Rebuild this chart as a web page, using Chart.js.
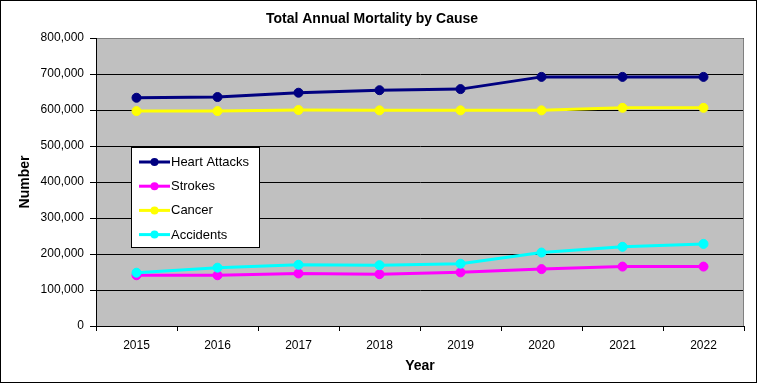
<!DOCTYPE html>
<html>
<head>
<meta charset="utf-8">
<script src="https://cdn.jsdelivr.net/npm/chart.js@4/dist/chart.umd.min.js"></script>
<style>
html,body{margin:0;padding:0;background:#fff;}
canvas{display:block;}
</style>
</head>
<body>
<canvas id="c" width="757" height="383"></canvas>
<script>
const years = ['2015','2016','2017','2018','2019','2020','2021','2022'];
const heartAttacks = [634000, 636000, 648000, 655000, 658000, 692000, 692000, 692000];
const strokes      = [141000, 141000, 146000, 144000, 149000, 158000, 165000, 165000];
const cancer       = [597000, 597000, 600000, 599000, 599000, 599000, 606000, 606000];
const accidents    = [148000, 162000, 170000, 169000, 173000, 204000, 220000, 228000];
const seriesNames  = ['Heart Attacks','Strokes','Cancer','Accidents'];
const seriesColors = ['#000080','#FF00FF','#FFFF00','#00FFFF'];
const yTicks = [0,100000,200000,300000,400000,500000,600000,700000,800000];

const FONT = 'Arial, "Liberation Sans", sans-serif';

function mk(i, data, order){
  return {
    label: seriesNames[i], data: data,
    borderColor: seriesColors[i], backgroundColor: seriesColors[i],
    pointBackgroundColor: seriesColors[i], pointBorderColor: seriesColors[i],
    borderWidth: 3, pointRadius: 4.5, pointBorderWidth: 1, tension: 0, order: order
  };
}

const plotBg = {
  id: 'plotBg',
  beforeDraw(chart){
    const {ctx, chartArea: a} = chart;
    ctx.save();
    ctx.fillStyle = '#fff';
    ctx.fillRect(0,0,chart.width,chart.height);
    ctx.fillStyle = '#C0C0C0';
    ctx.fillRect(a.left, a.top, a.right-a.left, a.bottom-a.top);
    ctx.restore();
  },
  beforeDatasetsDraw(chart){
    const {ctx, chartArea: a} = chart;
    ctx.save();
    ctx.strokeStyle = '#808080';
    ctx.lineWidth = 1;
    ctx.beginPath();
    ctx.moveTo(a.left, a.top+0.5); ctx.lineTo(a.right-0.5, a.top+0.5); ctx.lineTo(a.right-0.5, a.bottom);
    ctx.stroke();
    ctx.strokeStyle = '#000';
    ctx.beginPath();
    ctx.moveTo(a.left+0.5, a.top); ctx.lineTo(a.left+0.5, a.bottom);
    ctx.stroke();
    ctx.restore();
  },
  afterDraw(chart){
    const ctx = chart.ctx;
    ctx.save();
    // legend box
    const lx = 131, ly = 147, lw = 128, lh = 100;
    ctx.fillStyle = '#fff';
    ctx.fillRect(lx, ly, lw, lh);
    ctx.strokeStyle = '#000';
    ctx.lineWidth = 1;
    ctx.strokeRect(lx+0.5, ly+0.5, lw, lh);
    ctx.font = '13px ' + FONT;
    ctx.textBaseline = 'middle';
    ctx.textAlign = 'left';
    chart.data.datasets.forEach((ds, i) => {
      const y = 162 + i*24.2;
      ctx.strokeStyle = ds.borderColor;
      ctx.lineWidth = 3;
      ctx.beginPath(); ctx.moveTo(139, y); ctx.lineTo(170, y); ctx.stroke();
      ctx.fillStyle = ds.borderColor;
      ctx.beginPath(); ctx.arc(154.5, y, 4, 0, Math.PI*2); ctx.fill();
      ctx.fillStyle = '#000';
      ctx.fillText(ds.label, 171, y+0.5);
    });
    // outer border
    ctx.strokeStyle = '#000';
    ctx.lineWidth = 1;
    ctx.strokeRect(0.5, 0.5, chart.width-1, chart.height-1);
    ctx.restore();
  }
};

new Chart(document.getElementById('c'), {
  type: 'line',
  data: {
    labels: years,
    datasets: [mk(0, heartAttacks, 3), mk(1, strokes, 2), mk(2, cancer, 1), mk(3, accidents, 0)]
  },
  options: {
    responsive: false,
    animation: false,
    layout: { padding: { left: 0, right: 13, top: 0, bottom: 0 } },
    plugins: {
      legend: { display: false },
      tooltip: { enabled: false },
      title: {
        display: true, text: 'Total Annual Mortality by Cause', color: '#000',
        font: { family: FONT, size: 14, weight: 'bold' },
        padding: { top: 10.5, bottom: 10.7 }
      }
    },
    scales: {
      x: {
        offset: true,
        grid: { offset: true, drawOnChartArea: false, drawTicks: true, tickLength: 5, color: '#000', tickColor: '#000' },
        border: { display: true, color: '#000', width: 1 },
        ticks: { color: '#000', font: { family: FONT, size: 12 }, padding: 7, maxRotation: 0, autoSkip: false },
        title: { display: true, text: 'Year', color: '#000', font: { family: FONT, size: 14, weight: 'bold' }, padding: { top: 0, bottom: 8.6 } },
        afterFit(s){ s.height = 57; }
      },
      y: {
        min: 0, max: 800000,
        afterBuildTicks(s){ s.ticks = yTicks.map(v => ({ value: v })); },
        grid: { color: '#000', tickColor: '#000', tickLength: 6, lineWidth: 1 },
        border: { display: true, color: '#000', width: 1 },
        ticks: { color: '#000', font: { family: FONT, size: 12 }, padding: 6,
          callback: v => Number(v).toLocaleString('en-US') },
        title: { display: true, text: 'Number', color: '#000', font: { family: FONT, size: 14, weight: 'bold' }, padding: { top: 16.6, bottom: 0 } },
        afterFit(s){ s.width = 96; }
      }
    }
  },
  plugins: [plotBg]
});
</script>
</body>
</html>
